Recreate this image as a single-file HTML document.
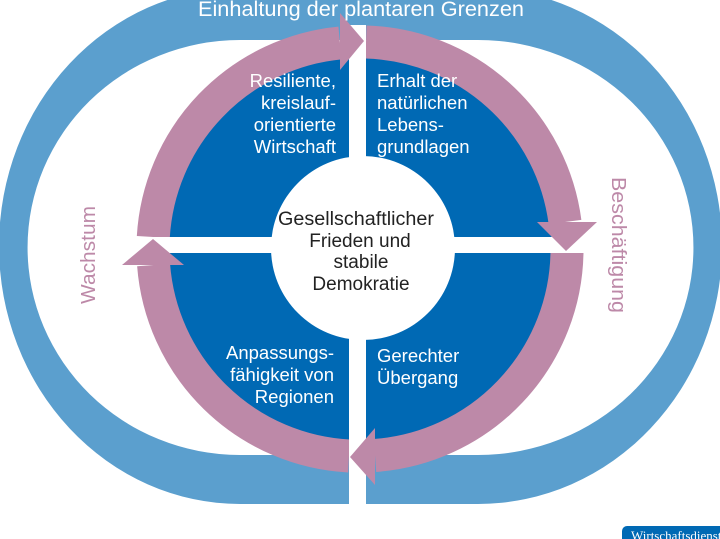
<!DOCTYPE html>
<html><head><meta charset="utf-8"><style>
html,body{margin:0;padding:0;background:#fff;width:720px;height:539px;overflow:hidden}
svg{display:block}
text{font-family:"Liberation Sans",sans-serif}
</style></head><body>
<svg width="720" height="539" viewBox="0 0 720 539" xmlns="http://www.w3.org/2000/svg">
<path fill="#5b9fce" fill-rule="evenodd" d="M240,-12 L478,-12 A244,258 0 0 1 478,504 L240,504 A241,258 0 0 1 240,-12 Z
 M240,40 L478,40 A215,207 0 0 1 478,455 L240,455 A212,207 0 0 1 240,40 Z"/>
<circle cx="360" cy="249" r="192" fill="#0069b4"/>
<g fill="none" stroke="#bd89a8" stroke-width="33">
<path d="M153.3,237 A207,207 0 0 1 340,43"/>
<path d="M366,42 A207,207 0 0 1 565,222"/>
<path d="M567,252 A207,207 0 0 1 375,455.5"/>
<path d="M349,456 A207,207 0 0 1 153.6,265"/>
</g>
<rect x="349" y="25" width="17" height="485" fill="#fff"/>
<rect x="120" y="237" width="480" height="16" fill="#fff"/>
<circle cx="363" cy="248" r="92" fill="#fff"/>
<g fill="#bd89a8">
<polygon points="340,13 340,70 364,41"/>
<polygon points="537,222 597,222 566,251"/>
<polygon points="375,428 375,485 350,457"/>
<polygon points="122,265 184,265 153,239"/>
</g>
<text x="361" y="16" font-size="21" fill="#fff" text-anchor="middle" textLength="326" lengthAdjust="spacingAndGlyphs">Einhaltung der plantaren Grenzen</text>
<g font-size="18.5" fill="#fff">
<g text-anchor="end">
<text x="336" y="87">Resiliente,</text>
<text x="336" y="109">kreislauf-</text>
<text x="336" y="131">orientierte</text>
<text x="336" y="153">Wirtschaft</text>
<text x="334" y="359">Anpassungs-</text>
<text x="334" y="381">fähigkeit von</text>
<text x="334" y="403">Regionen</text>
</g>
<text x="377" y="87">Erhalt der</text>
<text x="377" y="109">natürlichen</text>
<text x="377" y="131">Lebens-</text>
<text x="377" y="153">grundlagen</text>
<text x="377" y="362">Gerechter</text>
<text x="377" y="384">Übergang</text>
</g>
<g font-size="19" fill="#222" text-anchor="middle">
<text x="356" y="225" textLength="156" lengthAdjust="spacingAndGlyphs">Gesellschaftlicher</text>
<text x="360" y="247">Frieden und</text>
<text x="361" y="268">stabile</text>
<text x="361" y="290">Demokratie</text>
</g>
<text transform="translate(95,255) rotate(-90)" font-size="20" fill="#bd89a8" text-anchor="middle" textLength="98" lengthAdjust="spacingAndGlyphs">Wachstum</text>
<text transform="translate(612,245) rotate(90)" font-size="20" fill="#bd89a8" text-anchor="middle" textLength="136" lengthAdjust="spacingAndGlyphs">Beschäftigung</text>
<rect x="622" y="526" width="110" height="24" rx="5" fill="#0069b4"/>
<text x="631" y="540" style="font-family:'Liberation Serif',serif" font-size="13" fill="#fff">Wirtschaftsdienst</text>
</svg>
</body></html>
